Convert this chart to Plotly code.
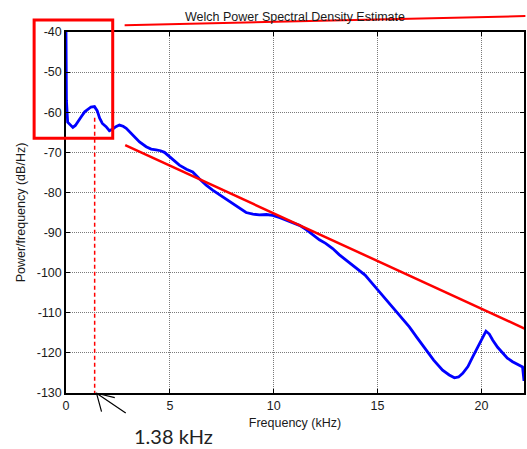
import plotly.graph_objects as go

# ---- data ----
freq_khz = [0.00, 0.02, 0.08, 0.20, 0.33, 0.45, 0.60, 0.75, 0.90, 1.05, 1.20, 1.37,
            1.50, 1.62, 1.75, 1.93, 2.09, 2.25, 2.40, 2.57, 2.75, 2.90, 3.06, 3.30,
            3.54, 3.86, 4.10, 4.34, 4.55, 4.74, 4.98, 5.20, 5.46, 5.80, 6.10, 6.42,
            6.75, 7.06, 7.40, 7.70, 8.03, 8.35, 8.67, 9.00, 9.31, 9.65, 9.95, 10.3,
            10.6, 10.9, 11.24, 11.55, 11.88, 12.2, 12.5, 12.84, 13.15, 13.48, 13.8,
            14.12, 14.4, 14.7, 15.09, 15.4, 15.73, 16.1, 16.53, 16.9, 17.33, 17.7,
            18.13, 18.45, 18.7, 18.9, 19.1, 19.35, 19.58, 19.8, 19.98, 20.22, 20.38,
            20.54, 20.78, 21.02, 21.25, 21.5, 21.75, 21.98, 22.05]
psd_db = [-40.0, -57.0, -62.5, -63.2, -63.8, -63.3, -62.3, -61.0, -59.9, -59.2, -58.7, -58.6,
          -59.6, -61.5, -62.8, -63.6, -64.6, -64.2, -63.6, -63.2, -63.5, -64.0, -64.8, -66.2,
          -67.4, -68.6, -69.2, -69.4, -69.6, -70.0, -71.1, -72.2, -73.2, -74.2, -74.9, -76.6,
          -78.2, -79.4, -80.6, -81.6, -82.7, -84.0, -85.0, -85.4, -85.6, -85.5, -85.7, -86.3,
          -86.9, -87.5, -88.2, -89.2, -90.6, -91.8, -92.7, -94.0, -95.5, -96.9, -98.2,
          -99.4, -100.6, -102.4, -104.8, -106.6, -108.5, -110.8, -113.5, -116.2, -119.3, -121.8,
          -124.3, -125.5, -126.2, -126.0, -125.1, -123.4, -121.0, -118.8, -116.8, -114.6, -115.3,
          -116.8, -118.6, -120.1, -121.3, -122.2, -122.8, -123.5, -127.0]

fit_freq = [2.85, 22.15]
fit_db = [-68.2, -114.1]

marker_freq = 1.38
marker_db_top = -61.4
marker_label = "1.38 kHz"

x_ticks = [0, 5, 10, 15, 20]
y_ticks = [-130, -120, -110, -100, -90, -80, -70, -60, -50, -40]

title = "Welch Power Spectral Density Estimate"
x_title = "Frequency (kHz)"
y_title = "Power/frequency (dB/Hz)"

fig = go.Figure()
fig.add_trace(go.Scatter(x=freq_khz, y=psd_db, mode="lines",
                         line=dict(color="#0000ff", width=2.8), showlegend=False,
                         hoverinfo="skip"))

RED = "#ff0000"
shapes = [
    # fitted slope line
    dict(type="line", xref="x", yref="y", x0=fit_freq[0], y0=fit_db[0],
         x1=fit_freq[1], y1=fit_db[1], line=dict(color=RED, width=2.5)),
    # dashed marker line
    dict(type="line", xref="x", yref="y", x0=marker_freq, y0=marker_db_top,
         x1=marker_freq, y1=-130, line=dict(color=RED, width=1.5, dash="4px,3px")),
    # zoom box
    dict(type="rect", xref="paper", yref="paper", x0=-0.0696, x1=0.102, y0=0.706, y1=1.033,
         line=dict(color=RED, width=3)),
    # line from the box to the right
    dict(type="line", xref="paper", yref="paper", x0=0.128, y0=1.019, x1=1.003, y1=1.044,
         line=dict(color=RED, width=2)),
    # arrow to the marker frequency
    dict(type="path", xref="paper", yref="paper",
         path="M 0.1304 -0.0554 L 0.0667 -0.0008 M 0.1065 -0.013 L 0.0667 -0.0008 L 0.0776 -0.0518",
         line=dict(color="black", width=1.2)),
]

fig.update_layout(
    width=527, height=449,
    margin=dict(l=66, r=1, t=32, b=56),
    paper_bgcolor="white", plot_bgcolor="white",
    font=dict(family="Liberation Sans, Arial, sans-serif", size=12.5, color="#1a1a1a"),
    title=dict(text=title, x=0.5, xref="paper", y=1, yref="paper", yanchor="bottom",
               pad=dict(b=11), font=dict(size=12.5, color="#1a1a1a")),
    shapes=shapes,
    showlegend=False,
    annotations=[dict(text=marker_label, xref="paper", yref="paper", x=0.2348, y=-0.119,
                      showarrow=False, xanchor="center", yanchor="middle",
                      font=dict(family="Lato, Carlito, sans-serif", size=20, color="#222222"))],
)

axis_common = dict(showline=True, linecolor="black", linewidth=1.5, mirror="allticks",
                   ticks="inside", ticklen=4, tickcolor="black", showgrid=True,
                   gridcolor="#7a7a7a", griddash="1px,1px", gridwidth=1, zeroline=False)

fig.update_xaxes(range=[0, 22.05], tickvals=x_ticks, ticktext=[str(v) for v in x_ticks],
                 title=dict(text=x_title, standoff=6, font=dict(size=12.5)), **axis_common)
fig.update_yaxes(range=[-130, -40], tickvals=y_ticks, ticktext=[str(v) for v in y_ticks],
                 title=dict(text=y_title, standoff=8, font=dict(size=12.5)), **axis_common)

fig.write_html("out.html", config={"displayModeBar": False},
               post_script="document.body.style.margin='0';document.body.style.overflow='hidden';")
